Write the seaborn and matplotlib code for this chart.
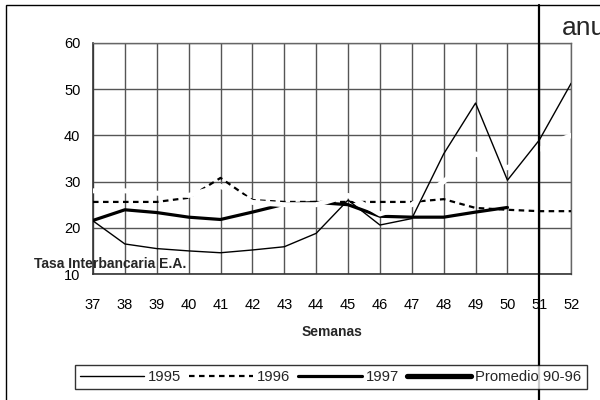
import numpy as np
import pandas as pd
import matplotlib.pyplot as plt
import matplotlib.lines as mlines
import matplotlib.patches as mpatches
import seaborn as sns

semanas = list(range(37, 53))
tasa_1995 = [21.5, 16.5, 15.5, 15.0, 14.6, 15.2, 15.9, 18.8, 26.0, 20.6, 22.0, 36.0, 47.0, 30.3, 39.0, 51.3]
tasa_1996 = [25.6, 25.6, 25.6, 26.5, 30.8, 26.0, 25.6, 25.6, 25.6, 25.6, 25.6, 26.2, 24.3, 23.9, 23.6, 23.6]
semanas_1997 = list(range(37, 51))
tasa_1997 = [21.6, 23.9, 23.3, 22.3, 21.8, 23.4, 25.1, 25.5, 25.0, 22.5, 22.3, 22.3, 23.4, 24.4]
promedio_90_96 = [28.0, 28.0, 27.5, 27.0, 29.0, 25.5, 25.0, 25.0, 27.0, 23.0, 25.0, 30.0, 36.0, 33.0, 37.0, 40.0]

df = pd.DataFrame({'semana': semanas, '1995': tasa_1995, '1996': tasa_1996,
                   'prom': promedio_90_96})
df97 = pd.DataFrame({'semana': semanas_1997, '1997': tasa_1997})

sns.set_style('white')
plt.rcParams['font.family'] = ['Liberation Sans', 'DejaVu Sans']

fig = plt.figure(figsize=(6, 4), dpi=100)
ax = fig.add_axes([0.155, 0.315, 0.797, 0.5775])

# grid
ax.set_xlim(37, 52)
ax.set_ylim(10, 60)
ax.set_xticks(semanas)
ax.set_yticks([10, 20, 30, 40, 50, 60])
ax.grid(True, color='#555555', linewidth=1.0)
ax.set_axisbelow(True)
for s in ['top', 'right']:
    ax.spines[s].set_color('#666666')
    ax.spines[s].set_linewidth(1.0)
for s in ['left', 'bottom']:
    ax.spines[s].set_color('#333333')
    ax.spines[s].set_linewidth(1.2)

sns.lineplot(data=df, x='semana', y='1996', ax=ax, color='black', linewidth=1.6,
             dashes=False, zorder=3).lines[-1].set_dashes([2.5, 2])
sns.lineplot(data=df97, x='semana', y='1997', ax=ax, color='black', linewidth=2.3, zorder=4)
# promedio is drawn in white in the original, only visible where it crosses things
sns.lineplot(data=df, x='semana', y='prom', ax=ax, color='white', linewidth=3.6, zorder=5)
sns.lineplot(data=df, x='semana', y='1995', ax=ax, color='black', linewidth=1.0, zorder=6)

ax.tick_params(axis='both', length=0, labelsize=10.5, colors='black')
ax.tick_params(axis='x', pad=17)
ax.tick_params(axis='y', pad=9)
ax.set_xlabel('')
ax.set_ylabel('')

fig.text(0.553, 0.17, 'Semanas', ha='center', va='center', fontsize=10, fontweight='bold')
fig.text(0.057, 0.34, 'Tasa Interbancaria E.A.', ha='left', va='center', fontsize=10,
         fontweight='bold')

handles = [
    mlines.Line2D([], [], color='black', linewidth=1.0),
    mlines.Line2D([], [], color='black', linewidth=1.6, dashes=[2.5, 2]),
    mlines.Line2D([], [], color='black', linewidth=2.3),
    mlines.Line2D([], [], color='black', linewidth=3.8),
]
leg = fig.legend(handles, ['1995', '1996', '1997', 'Promedio 90-96'], ncol=4,
                 loc='center', bbox_to_anchor=(0.551, 0.0575), frameon=True,
                 fontsize=10.7, handlelength=4.3, handletextpad=0.3,
                 columnspacing=0.5, borderpad=0.35, fancybox=False)
leg.get_frame().set_edgecolor('black')
leg.get_frame().set_linewidth(1.0)

# outer frame of the pasted chart
fig.patches.append(mpatches.Rectangle((0.01, -0.1), 1.2, 1.0875, transform=fig.transFigure,
                                      fill=False, edgecolor='black', linewidth=1.0))
# vertical divider and clipped title from the neighbouring chart
fig.add_artist(mlines.Line2D([0.898, 0.898], [0.0, 0.9875], transform=fig.transFigure,
                             color='black', linewidth=1.6))
fig.text(0.937, 0.93, 'anual', ha='left', va='center', fontsize=19)

fig.savefig('out.png', dpi=100)
